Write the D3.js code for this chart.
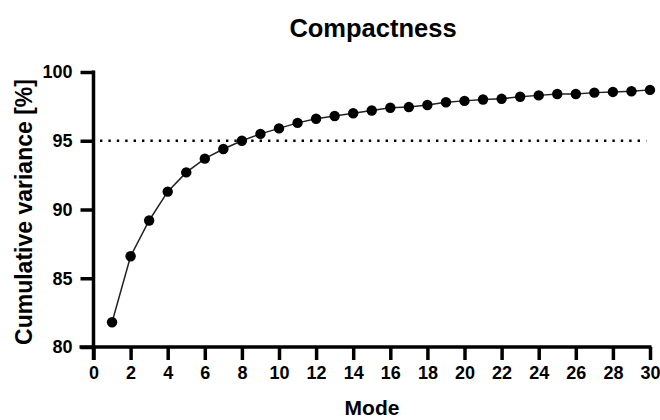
<!DOCTYPE html>
<html>
<head>
<meta charset="utf-8">
<script src="https://cdn.jsdelivr.net/npm/d3@7"></script>
<style>
  body { margin: 0; background: #fff; }
  text { font-family: "Liberation Sans", Arial, sans-serif; font-weight: bold; fill: #000; }
</style>
</head>
<body>
<svg id="chart" width="660" height="420"></svg>
<script>
// cumulative variance per mode
const modes = d3.range(1, 31);
const variance = [81.8, 86.6, 89.2, 91.3, 92.7, 93.7, 94.4, 95.0, 95.5, 95.9,
  96.3, 96.6, 96.8, 97.0, 97.2, 97.4, 97.45, 97.6, 97.8, 97.9,
  98.0, 98.05, 98.2, 98.3, 98.4, 98.4, 98.5, 98.55, 98.6, 98.7];
const xTicks = d3.range(0, 31, 2);
const yTicks = [80, 85, 90, 95, 100];
const threshold = 95;

const data = modes.map((m, i) => ({ mode: m, v: variance[i] }));

const svg = d3.select("#chart");
const plotLeft = 93.5, plotRight = 650, plotTop = 72, plotBottom = 347;

const x = d3.scaleLinear().domain([0, 30]).range([plotLeft, plotRight]);
const y = d3.scaleLinear().domain([80, 100]).range([plotBottom, plotTop]);

//axes
const xAxis = svg.append("g")
  .attr("transform", `translate(0,${plotBottom})`)
  .call(d3.axisBottom(x).tickValues(xTicks).tickSize(13).tickPadding(5).tickSizeOuter(0));
xAxis.select(".domain").attr("d", `M${plotLeft - 14},0H${plotRight + 1.5}`);

const yAxis = svg.append("g")
  .attr("transform", `translate(${plotLeft},0)`)
  .call(d3.axisLeft(y).tickValues(yTicks).tickSize(13).tickPadding(8).tickSizeOuter(0));
yAxis.select(".domain").attr("d", `M0,${plotTop - 1.5}V${plotBottom + 13}`);

svg.selectAll(".domain").style("stroke", "#000").style("stroke-width", "3.5px");
svg.selectAll(".tick line").style("stroke", "#000").style("stroke-width", "3.5px");
svg.selectAll(".tick text")
  .style("font-size", "18px")
  .style("font-family", "Liberation Sans, Arial, sans-serif")
  .style("font-weight", "bold");
xAxis.selectAll(".tick text").attr("dy", "0.8em");

// threshold line
svg.append("line")
  .attr("x1", x(0.35))
  .attr("x2", x(29.8))
  .attr("y1", y(threshold))
  .attr("y2", y(threshold))
  .attr("stroke", "#000")
  .attr("stroke-width", 2.4)
  .attr("stroke-dasharray", "2.4,6");

// curve
svg.append("path")
  .datum(data)
  .attr("fill", "none")
  .attr("stroke", "#222")
  .attr("stroke-width", 1.5)
  .attr("d", d3.line().x(d => x(d.mode)).y(d => y(d.v)));

svg.selectAll("circle")
  .data(data)
  .join("circle")
  .attr("cx", d => x(d.mode))
  .attr("cy", d => y(d.v))
  .attr("r", 5.2)
  .attr("fill", "#000");

// labels
svg.append("text")
  .attr("x", 373)
  .attr("y", 37)
  .attr("text-anchor", "middle")
  .style("font-size", "25.5px")
  .text("Compactness");

svg.append("text")
  .attr("x", 372)
  .attr("y", 415)
  .attr("text-anchor", "middle")
  .style("font-size", "21px")
  .text("Mode");

svg.append("text")
  .attr("transform", `translate(32,212) rotate(-90)`)
  .attr("text-anchor", "middle")
  .style("font-size", "23px")
  .text("Cumulative variance [%]");
</script>
</body>
</html>
